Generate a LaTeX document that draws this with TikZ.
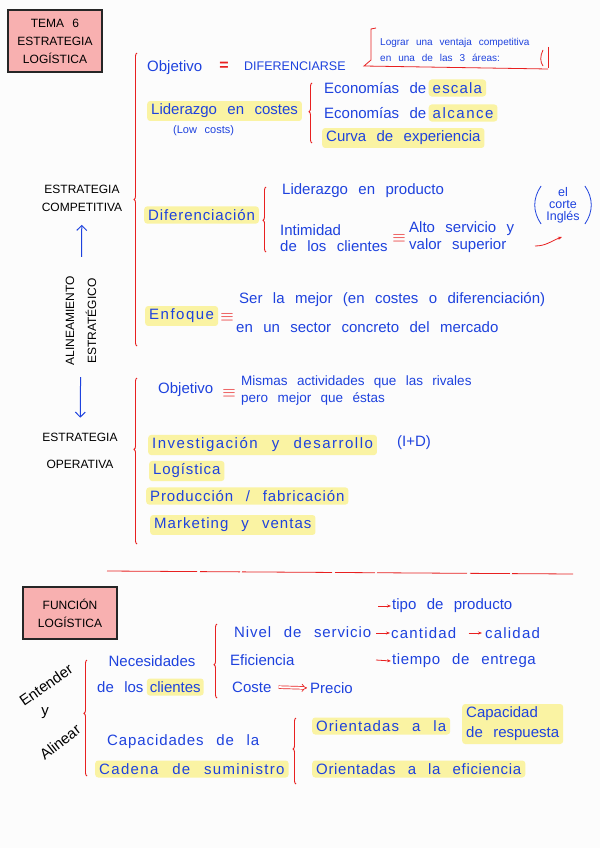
\documentclass[tikz,border=0pt]{standalone}
\usepackage{fontspec}
\setmainfont[WordSpace=2.5]{Liberation Sans}
\usetikzlibrary{arrows.meta,positioning,decorations.pathreplacing}

\definecolor{ink}{RGB}{30,66,222}
\definecolor{redink}{RGB}{232,32,32}
\definecolor{hilite}{RGB}{250,243,163}
\definecolor{pinkbox}{RGB}{248,176,176}
\definecolor{paper}{RGB}{252,252,252}

\tikzset{
  hand/.style={text=ink, font=\fontsize{15}{18}\selectfont, inner sep=1pt},
  hl/.style={hand, fill=hilite, rounded corners=3pt, inner xsep=4pt, inner ysep=3pt},
  loose/.style={font=\fontsize{15}{18}\selectfont\addfontfeature{LetterSpace=#1}},
  caps/.style={text=black, font=\fontsize{12}{18}\selectfont, align=center},
  titlebox/.style={caps, draw=black!85, line width=1.6pt, fill=pinkbox},
  rbrace/.style={draw=redink, line width=0.9pt, decorate, decoration={brace, amplitude=3pt, aspect=#1}},
  rbrace/.default=0.5,
  eqsign/.style={text=redink, font=\fontsize{16}{16}\selectfont\bfseries, inner sep=0pt},
  redarr/.style={draw=redink, -{Stealth[length=4pt]}, line width=0.8pt},
  bluearr/.style={draw=ink, -{Straight Barb[length=5pt]}, line width=1pt},
  slant/.style={text=black, font=\fontsize{15}{18}\selectfont, inner sep=0pt},
}

\begin{document}
\begin{tikzpicture}[x=1pt,y=-1pt]
\useasboundingbox (0,0) rectangle (600,848);
\fill[paper] (0,0) rectangle (600,848);

% Tema 6
\node[titlebox, minimum width=94pt, minimum height=62pt] (tema) at (55,41) {TEMA 6\\ESTRATEGIA\\LOGÍSTICA};

% Estrategia competitiva
\node[hand, anchor=west] (obj) at (146,68) {Objetivo};
\node[eqsign] (eqa) at (224,66) {=};
\node[hand, anchor=west, font=\fontsize{12.5}{15}\selectfont] (dif) at (243,66) {DIFERENCIARSE};
\node[hand, anchor=west, align=left, font=\fontsize{10}{16}\selectfont] (lograr) at (379,50) {Lograr una ventaja competitiva\\en una de las 3 áreas:};
\draw[redink, line width=0.8pt] (376,28) -- (371,29) -- (371,60) -- (364,66) -- (548,69);
\draw[redink, line width=0.8pt] (543,50) .. controls (540,56) and (540,62) .. (543,66);
\draw[redink, line width=0.8pt] (548,47) -- (548,68);

\node[hl, anchor=west] (lidc) at (147,111) {Liderazgo en costes};
\node[hand, anchor=west, font=\fontsize{11}{13}\selectfont] (low) at (172,131) {(Low costs)};
\draw[rbrace=0.52] (312,143) -- (312,83);
\node[hand, anchor=west] (eco1) at (323,88) {Economías de};
\node[hl, loose=8, right=1pt of eco1] (escala) {escala};
\node[hand, anchor=west] (eco2) at (323,113) {Economías de};
\node[hl, loose=10, right=1pt of eco2] (alcance) {alcance};
\node[hl, anchor=west] (curva) at (322,138) {Curva de experiencia};

\node[caps] (comp) at (82,198) {ESTRATEGIA\\COMPETITIVA};
\node[caps, font=\fontsize{12}{22}\selectfont, rotate=90] (alin) at (81,321) {ALINEAMIENTO\\ESTRATÉGICO};
\node[caps, font=\fontsize{12}{27}\selectfont] (oper) at (80,451) {ESTRATEGIA\\OPERATIVA};
\draw[bluearr, shorten <=16pt, shorten >=10pt] (alin) -- (comp);
\draw[bluearr, shorten <=8pt, shorten >=12pt] (alin) -- (oper);

\draw[rbrace=0.5] (137,346) -- (137,53);

\node[hl, loose=6, anchor=west] (difer) at (144,215) {Diferenciación};
\draw[rbrace=0.49] (266,252) -- (266,187);
\node[hand, anchor=west] (lidp) at (281,191) {Liderazgo en producto};
\node[hand, anchor=west, align=left, font=\fontsize{15}{16}\selectfont] (intim) at (279,238) {Intimidad\\de los clientes};
\node[eqsign] (eqb) at (399,238) {$\equiv$};
\node[hand, anchor=west, align=left, font=\fontsize{15}{17}\selectfont] (alto) at (408,237) {Alto servicio y\\valor superior};
\node[hand, align=center, font=\fontsize{12.5}{12}\selectfont] (corte) at (563,205) {el\\corte\\Inglés};
\draw[ink, line width=0.8pt] ([xshift=-4pt]corte.north west) to[bend right=35] ([xshift=-4pt]corte.south west);
\draw[ink, line width=0.8pt] ([xshift=4pt]corte.north east) to[bend left=35] ([xshift=4pt]corte.south east);
\coordinate (ctail) at (535,246);
\coordinate (chead) at (562,237);
\draw[redarr] (ctail) to[out=0, in=200] (chead);

\node[hl, loose=10, anchor=west] (enf) at (145,316) {Enfoque};
\node[eqsign] (eqc) at (227,317) {$\equiv$};
\node[hand, anchor=west] (ser) at (238,300) {Ser la mejor (en costes o diferenciación)};
\node[hand, anchor=west] (sector) at (235,327) {en un sector concreto del mercado};

% Estrategia operativa
\draw[rbrace=0.57] (137,544) -- (137,378);
\node[hand, anchor=west] (obj2) at (157,390) {Objetivo};
\node[eqsign] (eqd) at (229,393) {$\equiv$};
\node[hand, anchor=west, align=left, font=\fontsize{13.5}{17}\selectfont] (mismas) at (240,391) {Mismas actividades que las rivales\\pero mejor que éstas};
\node[hl, loose=10, anchor=west] (imd) at (148,445) {Investigación y desarrollo};
\node[hand, anchor=west] (imdab) at (396,443) {(I+D)};
\node[hl, loose=6, anchor=west] (logi) at (149,471) {Logística};
\node[hl, loose=6, anchor=west] (prod) at (146,496) {Producción / fabricación};
\node[hl, loose=7, anchor=west] (mkt) at (150,525) {Marketing y ventas};

\coordinate (dl) at (107,571);
\coordinate (dr) at (573,574);
\draw[redink, line width=0.8pt, dash pattern=on 90pt off 3pt on 40pt off 2pt] (dl) -- (dr);

% Funcion logistica
\node[titlebox, minimum width=94pt, minimum height=52pt] (func) at (70,613) {FUNCIÓN\\LOGÍSTICA};
\node[slant, rotate=35] (entender) at (46,685) {Entender};
\node[slant] (yy) at (45,713) {y};
\node[slant, rotate=38] (alinear) at (60,742) {Alinear};
\draw[rbrace=0.54] (87,776) -- (87,660);

\node[hand] (nec) at (152,661) {Necesidades};
\node[hand, anchor=west] (delos) at (96,687) {de los};
\node[hl, inner xsep=3pt, right=2pt of delos] (clientes) {clientes};
\draw[rbrace=0.45] (217,698) -- (217,624);
\node[hand, loose=6, anchor=west] (nivel) at (233,632) {Nivel de servicio};
\node[hand, anchor=west] (efic) at (229,660) {Eficiencia};
\node[hand, anchor=west] (coste) at (231,687) {Coste};
\node[hand, anchor=west] (precio) at (309,688) {Precio};
\draw[redink, double, double distance=2pt, line width=0.7pt, -Implies, shorten <=6pt, shorten >=2pt] (coste.east) -- (precio.west);

\coordinate (t1) at (378,606);
\coordinate (t2) at (376,633);
\coordinate (t3) at (376,660);
\node[hand, anchor=west] (tipo) at (391,606) {tipo de producto};
\node[hand, loose=8, anchor=west] (cant) at (390,633) {cantidad};
\node[hand, loose=8, anchor=west] (cal) at (484,633) {calidad};
\node[hand, loose=4, anchor=west] (tiempo) at (391,661) {tiempo de entrega};
\draw[redarr] (t1) -- (tipo.west);
\draw[redarr] (t2) -- (cant.west);
\draw[redarr, shorten <=11pt, shorten >=2pt] (cant.east) -- (cal.west);
\draw[redarr] (t3) -- (tiempo.west);

\node[hand, loose=6, anchor=west] (capac) at (106,742) {Capacidades de la};
\node[hl, loose=9, anchor=west] (cadena) at (95,769) {Cadena de suministro};
\draw[rbrace=0.53] (296,784) -- (296,718);
\node[hl, loose=7, anchor=west] (orient) at (312,726) {Orientadas a la};
\node[hl, anchor=west, align=left, font=\fontsize{15}{20}\selectfont] (capresp) at (462,724) {Capacidad\\de respuesta};
\node[hl, loose=4.5, anchor=west] (orefi) at (312,769) {Orientadas a la eficiencia};
\end{tikzpicture}
\end{document}
